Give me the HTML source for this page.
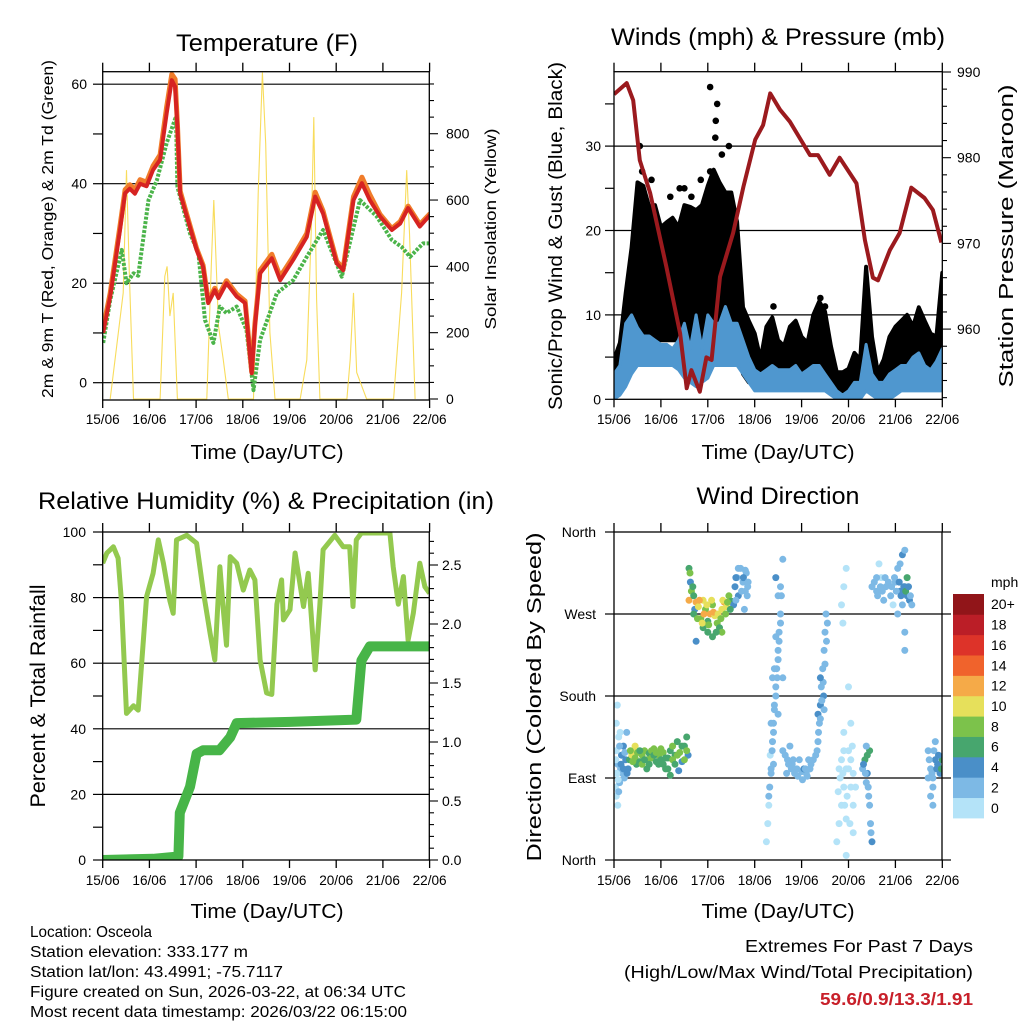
<!DOCTYPE html>
<html><head><meta charset="utf-8"><style>
html,body{margin:0;padding:0;background:#fff;}
svg{display:block;font-family:"Liberation Sans",sans-serif;}
</style></head><body>
<svg id="chart" width="1024" height="1024" viewBox="0 0 1024 1024" xmlns="http://www.w3.org/2000/svg">
<defs>
<clipPath id="cT"><rect x="102.7" y="71.7" width="326.6" height="328.3"/></clipPath>
<clipPath id="cW"><rect x="614" y="71.7" width="328.3" height="327.6"/></clipPath>
<clipPath id="cR"><rect x="102.7" y="532" width="326.6" height="328"/></clipPath>
<clipPath id="cD"><rect x="614" y="532" width="328" height="328"/></clipPath>
</defs>
</svg>
<script>
// ---------- DATA ----------
const dayLabels=["15/06","16/06","17/06","18/06","19/06","20/06","21/06","22/06"];
const tempT=[0.01,0.16,0.37,0.48,0.58,0.69,0.8,0.94,1.08,1.23,1.37,1.48,1.55,1.6,1.66,1.8,2.01,2.15,2.26,2.4,2.48,2.65,2.87,3.05,3.19,3.26,3.37,3.62,3.8,4.08,4.37,4.55,4.72,5.01,5.15,5.37,5.55,5.72,5.94,6.19,6.37,6.54,6.79,7.01];
const tempRed=[10,17.3,30.7,38.1,39,38,40,39.5,42.8,44.8,54.2,60.8,59.5,51.5,38,33.4,26.7,23.3,16,18.6,17,20,17.3,16,1.9,11.3,22,25,20.6,24.7,29.3,37.4,34,24,22.6,36.7,40.1,36.7,33.4,30.7,32,35.1,31.4,33.7];
const tempOrange=[11,18,31.5,38.8,39.8,38.8,40.8,40.3,43.6,45.8,55.5,62,61,52,38.5,33.8,27,23.6,16.4,19,17.4,20.5,17.8,16.4,2.2,11.8,22.6,25.8,21.3,25.3,30,38.3,34.5,24.4,23,37.4,41.3,37.8,33.8,31,32.4,35.5,31.8,34];
const dewT=[0.01,0.16,0.41,0.51,0.66,0.76,0.98,1.16,1.37,1.57,1.6,1.87,2.05,2.19,2.37,2.51,2.65,2.87,3.08,3.23,3.37,3.73,4.08,4.37,4.72,5.12,5.51,5.87,6.19,6.4,6.58,6.86,7.0];
const dewV=[8,16.6,26.7,20,22,21.5,36.7,40.7,48.2,53.5,39.4,30,26,12.6,8,15.3,14,15.3,10.6,-1.5,8.6,18,20.6,25.3,30.7,21.3,36.7,33.4,28.7,27.3,25.3,28,28];
const solarT=[0.16,0.44,0.51,0.57,0.66,1.23,1.33,1.38,1.44,1.51,1.6,2.23,2.33,2.38,2.48,2.58,2.69,3.23,3.33,3.42,3.49,3.58,3.69,4.23,4.37,4.47,4.52,4.58,4.65,5.23,5.3,5.37,5.44,5.65,6.23,6.4,6.51,6.57,6.69];
const solarV=[0,320,690,380,0,0,370,400,250,320,0,0,420,600,220,120,0,0,620,985,770,200,0,0,118,520,850,300,0,0,120,320,80,0,0,320,690,500,0];
const presT=[0,0.27,0.41,0.55,0.77,1.12,1.41,1.55,1.65,1.83,1.97,2.08,2.26,2.54,2.76,3.01,3.18,3.33,3.54,3.75,4.18,4.35,4.6,4.81,5.17,5.35,5.52,5.63,5.88,6.09,6.34,6.62,6.8,6.98];
const presV=[987.4,988.7,986.7,979.7,975.9,967.2,959.5,953.1,955.2,952.7,956.7,956.4,966.1,971.2,976.6,982.1,983.8,987.5,985.6,984.2,980.3,980.3,978,980,977,970.4,966,965.7,969.2,971.2,976.5,975.3,973.9,970.1];
const windT=[0,0.125,0.25,0.375,0.5,0.625,0.75,0.875,1,1.125,1.25,1.375,1.5,1.625,1.75,1.875,2,2.125,2.25,2.375,2.5,2.625,2.75,2.875,3,3.125,3.25,3.375,3.5,3.625,3.75,3.875,4,4.125,4.25,4.375,4.5,4.625,4.75,4.875,5,5.125,5.25,5.375,5.5,5.625,5.75,5.875,6,6.125,6.25,6.375,6.5,6.625,6.75,6.875,7];
const gustHi=[4.7,6.7,12.6,18,25.7,25.3,22.8,23,20.4,21,21.5,20.4,23,22.8,22.4,23,25.3,27.2,25.7,24.5,24.5,21,10.9,9.3,7.8,4.7,8.6,9.7,7,6.3,8.6,9.3,7.4,6.7,10,11.6,10.4,6.3,3.2,3.2,3.6,5.5,4.7,15.7,7.4,3.2,4.7,7.4,8.6,9.3,10,8.6,10.9,9.3,7.8,7.4,15];
const gustLo=[1,1.5,2,4,7,7,7,7,7,7,7,7,7,7,7,7,7,7,7,7,7,7,3,2,2,2,2,2,2,2,2,2,2,2,2,2,2,1,0,0,0,0.5,1,3,1,0.5,0.5,0.5,2,2,2,2,2,2,2,2,2];
const windHi=[3,4,9,10,8.5,7.5,7.5,7,6.5,6.5,6,7,9,6,10,6,10,9,9,11,9,9,7,5,3.5,3,3.5,4,3.5,3.5,3.5,4,3,3.5,4,4,3,2,1,0.5,1,2,2,6.5,3,2,2,3,3.5,4,4,5,5.5,4,3.5,4.5,6];
const windLo=[0,0.5,1.5,3,4,4,4,4,4,4,4,3.5,2.5,2,1.5,2,2.5,4,4,4,4,4,3,2,1,1,1,1,1,1,1,1,1,1,1,1,1,0.5,0,0,0,0,0,1,0.5,0,0,0,0.5,1,1,1,1,1,1,1,1];
const gustOutT=[0.55,2.05,2.2,2.17,2.16,1.65,1.85,2.05,1.4,1.5,0.8,4.4,4.5,3.4,0.6,1.2,2.3,2.45];
const gustOutV=[30,37,35,33,31,24,26,27,25,25,26,12,11,11,27,24,29,30];
const rhT=[0,0.09,0.23,0.33,0.4,0.51,0.66,0.76,0.94,1.08,1.19,1.3,1.44,1.51,1.58,1.8,2.01,2.15,2.3,2.4,2.51,2.58,2.65,2.73,2.87,3.01,3.15,3.26,3.37,3.51,3.62,3.73,3.83,3.87,4.01,4.12,4.3,4.4,4.55,4.65,4.72,4.97,5.15,5.29,5.36,5.43,5.54,6.15,6.22,6.33,6.44,6.54,6.65,6.79,6.9,7.0];
const rhV=[90.5,93.6,95.5,92,79,44.7,47,45.7,80.3,87.4,97.6,90.5,79,75.2,97.6,99,96.6,82.3,69.1,61,89.4,76.7,65.5,92.5,90.5,82.3,88.4,85.4,61,50.9,50.5,78,85.4,73.2,76.3,93.6,77.3,87.4,58,78,94.6,99,95.5,95.5,77.3,97.6,99.7,99.7,89.4,78,86.4,67,75.2,90.5,83.3,81.3];
const rainT=[0,1.08,1.62,1.65,1.87,2.01,2.15,2.5,2.73,2.87,4.01,5.43,5.54,5.72,7.05];
const rainV=[0,0.01,0.03,0.4,0.62,0.9,0.93,0.93,1.04,1.16,1.17,1.19,1.69,1.81,1.81];
const dirTime=[0.02,0.03,0.05,0.05,0.07,0.08,0.1,0.12,0.14,0.16,0.18,0.2,0.22,0.25,0.27,0.3,0.05,0.1,
0.33,0.38,0.42,0.45,0.5,0.55,0.6,0.65,0.7,0.75,0.8,0.85,0.9,0.95,1.0,1.05,1.1,1.15,1.2,1.25,1.3,1.35,1.4,1.45,1.5,1.55,1.58,0.48,0.7,1.2,1.0,1.38,
1.6,1.63,1.65,1.6,1.7,1.72,1.75,1.8,1.85,1.9,1.95,2.0,2.05,2.1,2.15,2.2,2.25,2.3,2.35,2.4,2.45,2.5,2.55,1.9,2.1,2.3,1.75,2.0,
2.58,2.62,2.65,2.7,2.75,2.8,2.82,2.85,2.6,2.78,
3.3,3.32,3.35,3.38,3.4,3.42,3.45,3.47,3.5,3.52,3.55,3.57,3.6,3.28,3.25,3.45,3.5,3.33,3.6,
3.6,3.7,3.8,3.9,4.0,4.1,4.2,4.3,3.75,3.95,4.05,4.15,
4.35,4.38,4.4,4.42,4.45,4.48,4.5,4.52,4.35,4.47,
4.75,4.8,4.85,4.9,4.95,5.0,5.05,5.1,4.8,4.9,4.85,4.9,4.95,4.88,5.0,5.05,4.95,5.1,
5.3,5.35,5.4,5.42,5.45,5.47,5.5,5.45,5.38,
5.5,5.6,5.7,5.8,5.9,6.0,6.05,6.1,6.15,6.2,6.25,6.3,6.05,5.65,5.75,6.2,6.2,6.15,6.2,5.95,6.25,
6.7,6.75,6.8,6.85,6.9,6.95,7.0,6.75,6.8,6.85,
0.04,0.06,0.09,0.12,0.15,0.2,0.23,0.28,0.08,0.13,
0.4,0.45,0.55,0.6,0.65,0.75,0.8,0.85,0.9,0.95,1.05,1.1,1.15,1.25,1.3,1.35,1.45,1.5,1.55,0.35,
1.62,1.68,1.7,1.78,1.82,1.88,1.92,1.98,2.02,2.08,2.12,2.18,2.22,2.28,2.32,2.38,2.42,2.48,
2.6,2.65,2.72,2.76,2.8,2.84,2.86,
3.3,3.35,3.37,3.4,3.42,3.45,3.48,3.5,3.52,3.55,3.42,3.38,3.45,3.5,3.55,3.35,3.4,
3.65,3.72,3.78,3.85,3.92,4.02,4.08,4.12,4.18,4.25,3.68,3.82,
4.33,4.36,4.4,4.43,4.46,4.5,4.53,4.55,4.4,4.48,
4.78,4.82,4.85,4.88,4.92,4.95,5.0,5.05,5.1,5.15,4.9,4.97,5.03,5.08,
5.32,5.36,5.38,5.4,5.43,5.48,
5.55,5.62,5.68,5.72,5.78,5.85,5.92,5.98,6.02,6.08,6.12,6.18,6.22,6.28,6.32,6.1,5.6,6.35,
6.72,6.78,6.82,6.88,6.92,6.98,6.7,6.8];
const dirDeg=[95,80,120,150,170,105,135,85,100,115,95,125,90,110,140,100,70,75,
110,115,120,112,118,108,115,120,110,117,112,122,108,115,110,105,100,112,120,125,115,130,118,108,125,135,115,105,100,93,122,98,
320,305,295,285,290,275,283,278,265,285,275,262,270,280,268,260,255,275,283,278,290,284,280,255,245,250,240,250,
300,310,290,320,305,295,315,300,285,275,
60,80,100,130,150,170,190,210,230,250,270,290,330,40,20,310,160,115,200,
120,110,105,100,97,95,105,115,125,110,100,110,
130,150,170,190,210,230,250,270,160,180,
20,40,60,80,100,120,80,60,100,140,280,300,320,260,190,150,5,30,
100,110,95,80,60,40,20,120,125,
300,295,310,300,290,305,320,295,280,300,290,285,270,325,285,230,250,335,340,280,310,
120,100,90,110,105,95,110,70,60,130,
110,95,88,125,105,100,118,95,60,140,
108,125,120,105,110,105,120,115,118,105,118,112,100,110,105,115,125,110,120,120,
315,300,270,265,285,260,270,280,258,285,272,250,270,265,285,270,283,275,
310,320,295,310,318,290,305,
70,95,120,140,165,180,200,220,240,260,210,200,245,290,300,150,105,
115,105,100,95,92,88,100,92,100,110,95,110,
120,140,155,175,195,215,240,260,200,165,
75,90,110,95,60,45,100,110,95,80,120,70,40,125,
105,95,85,115,70,30,
305,290,300,295,310,305,300,310,295,305,290,300,295,300,290,325,310,280,
110,95,120,100,115,100,90,80];
const dirSpeed=[1,1,1,0,0,2,1,2,3,4,3,4,3,4,3,4,1,2,
6,10,10,8,8,7,8,8,8,7,8,8,7,8,7,6,6,6,7,8,7,6,8,4,6,6,4,6,6,6,8,4,
6,4,8,12,6,4,12,10,8,10,8,6,12,8,10,8,6,10,12,10,8,6,4,6,6,8,4,6,
4,3,4,2,3,2,2,3,2,2,
1,2,2,2,2,3,2,3,2,3,2,2,2,1,1,4,3,1,2,
2,2,2,3,2,2,2,3,2,2,4,2,
2,3,4,2,3,2,2,2,4,4,
0,0,0,0,1,0,0,1,0,0,0,0,0,0,0,0,0,0,
2,6,4,2,2,2,4,6,3,
2,2,1,2,2,2,3,4,2,4,4,4,2,0,2,3,2,4,3,1,6,
2,2,2,4,5,4,6,2,2,2,
1,0,1,2,4,4,3,4,1,0,
8,10,6,8,6,6,8,6,8,6,8,7,6,8,6,8,7,8,8,8,
8,6,6,8,12,10,12,10,8,10,12,6,10,8,10,8,8,6,
4,3,2,4,2,2,2,
2,3,3,2,2,3,2,3,2,3,2,2,2,2,3,2,2,
2,2,2,3,3,2,2,2,2,2,2,2,
3,2,2,3,2,3,2,2,4,2,
0,0,0,0,0,0,0,1,1,0,0,0,0,0,
4,3,2,6,3,2,
2,2,2,2,2,2,2,3,2,4,4,4,6,4,2,2,2,2,
2,2,2,4,4,6,2,2];
const speedColors=["#b4e3f8","#7db9e5","#4a8fc8","#47a66e","#7cc24b","#e6e05b","#f5aa48","#f0632c","#dd3329","#bb1e27","#911519"];
const speedLabels=["0","2","4","6","8","10","12","14","16","18","20+"];
const tempTicks=[0,20,40,60];
const solarTicks=[0,200,400,600,800];
const windTicks=[0,10,20,30];
const presTicks=[960,970,980,990];
const rhTicks=[0,20,40,60,80,100];
const rainTicks=["0.0","0.5","1.0","1.5","2.0","2.5"];
const dirTicks=["North","East","South","West","North"];

// ---------- SCALES ----------
const xT=d=>102.7+d*46.7, yT=v=>382.7-v*4.975, ySol=w=>399-w*0.3316;
const xW=d=>614+d*46.9, yW=v=>399.3-v*8.44, yP=p=>72+(990-p)*8.57;
const yRH=v=>860-v*3.28, yRain=p=>860-p*118;
const yD=g=>860-g*328/360;

const svg=document.getElementById('chart');
const NS="http://www.w3.org/2000/svg";
function mk(tag,attrs,parent){const e=document.createElementNS(NS,tag);for(const k in attrs)e.setAttribute(k,attrs[k]);(parent||svg).appendChild(e);return e;}
function txt(s,x,y,size,anchor,parent,extra){const e=mk('text',Object.assign({x:x,y:y,'font-size':size,'text-anchor':anchor||'middle',fill:'#000'},extra||{}),parent);e.textContent=s;return e;}
function pts(xs,ys,fx,fy){return xs.map((t,i)=>fx(t).toFixed(1)+","+fy(ys[i]).toFixed(1)).join(" ");}
function grp(name){const g=mk('g',{});return g;}
function vtitle(s,x,y,size,len,g){return txt(s,x,y,size,'middle',g,{transform:'rotate(-90 '+x+' '+y+')',textLength:len,lengthAdjust:'spacingAndGlyphs'});}
function dayAxis(g,x0,w,yTop,yBot,labY){
  for(let i=0;i<8;i++){const x=x0+i*w;
    mk('line',{x1:x,y1:yBot,x2:x,y2:yBot+8,stroke:'#000','stroke-width':1.3},g);
    mk('line',{x1:x,y1:yTop,x2:x,y2:yTop-9,stroke:'#000','stroke-width':1.3},g);
    const t=txt(dayLabels[i],x,labY,14,'middle',g,{textLength:34,lengthAdjust:'spacingAndGlyphs'});
    
    
  }
}

// ===== Panel 1: Temperature =====
{
const g=grp('temperature-panel');
const gl=mk('g',{},g);


tempTicks.forEach(v=>mk('line',{x1:102.7,x2:429.3,y1:yT(v),y2:yT(v),stroke:'#000','stroke-width':1.2},gl));
const pl=mk('g',{'clip-path':'url(#cT)'},g);
const sol=mk('polyline',{points:pts(solarT,solarV,xT,ySol),fill:'none',stroke:'#f7d84a','stroke-width':1.1,opacity:0.9},pl);


const dw=mk('polyline',{points:pts(dewT,dewV,xT,yT),fill:'none',stroke:'#4bb44a','stroke-width':4,'stroke-dasharray':'3 1.5','stroke-linejoin':'round'},pl);


const or=mk('polyline',{points:pts(tempT,tempOrange,xT,yT),fill:'none',stroke:'#f07c2a','stroke-width':5,'stroke-linejoin':'round'},pl);


const rd=mk('polyline',{points:pts(tempT,tempRed,xT,yT),fill:'none',stroke:'#d62322','stroke-width':4,'stroke-linejoin':'round'},pl);


mk('rect',{x:102.7,y:71.7,width:326.6,height:328.3,fill:'none',stroke:'#000','stroke-width':1.3},g);
for(let v=0;v<=60;v+=10){mk('line',{x1:93,x2:102.7,y1:yT(v),y2:yT(v),stroke:'#000','stroke-width':1.2},g);}
tempTicks.forEach(v=>{const t=txt(String(v),87,yT(v)+5,14,'end',g);});
for(let w=0;w<=950;w+=50){mk('line',{x1:429.3,x2:w%200===0?438:434,y1:ySol(w),y2:ySol(w),stroke:'#000','stroke-width':1.1},g);}
solarTicks.forEach(v=>{const t=txt(String(v),446,ySol(v)+5,14,'start',g);});
dayAxis(g,102.7,46.7,71.7,400,424);
const ti=txt('Temperature (F)',267,51,24.5,'middle',g,{textLength:182,lengthAdjust:'spacingAndGlyphs'});
const xl=txt('Time (Day/UTC)',267,459,20.5,'middle',g,{textLength:153,lengthAdjust:'spacingAndGlyphs'});
const yl=vtitle('2m & 9m T (Red, Orange) & 2m Td (Green)',53,229,15.5,338,g);
const yr=vtitle('Solar Insolation (Yellow)',496,229,16,201,g);
}

// ===== Panel 2: Winds & Pressure =====
{
const g=grp('winds-pressure-panel');
const gl=mk('g',{},g);


[10,20,30].forEach(v=>mk('line',{x1:614,x2:942.3,y1:yW(v),y2:yW(v),stroke:'#000','stroke-width':1.2},gl));
const pl=mk('g',{'clip-path':'url(#cW)'},g);
const gp=windT.map((t,i)=>xW(t).toFixed(1)+","+yW(gustHi[i]).toFixed(1)).concat(windT.map((t,i)=>xW(t).toFixed(1)+","+yW(gustLo[i]).toFixed(1)).reverse()).join(" ");
const gb=mk('polygon',{points:gp,fill:'#000',stroke:'#000','stroke-width':4,'stroke-linejoin':'round'},pl);


gustOutT.forEach((t,i)=>{const c=mk('circle',{cx:xW(t),cy:yW(gustOutV[i]),r:3.3,fill:'#000'},pl);});
const wp=windT.map((t,i)=>xW(t).toFixed(1)+","+yW(windHi[i]).toFixed(1)).concat(windT.map((t,i)=>xW(t).toFixed(1)+","+yW(windLo[i]).toFixed(1)).reverse()).join(" ");
const wb=mk('polygon',{points:wp,fill:'#4f97cf',stroke:'#4f97cf','stroke-width':3,'stroke-linejoin':'round'},pl);


const pr=mk('polyline',{points:pts(presT,presV,xW,yP),fill:'none',stroke:'#9b1a1e','stroke-width':4,'stroke-linejoin':'round'},pl);


mk('rect',{x:614,y:71.7,width:328.3,height:327.6,fill:'none',stroke:'#000','stroke-width':1.3},g);
for(let v=0;v<=35;v+=5){mk('line',{x1:605,x2:614,y1:yW(v),y2:yW(v),stroke:'#000','stroke-width':1.2},g);}
windTicks.forEach(v=>{const t=txt(String(v),601,yW(v)+5,14,'end',g);});
for(let p=952;p<=990;p+=2){mk('line',{x1:942.3,x2:p%10===0?951:947,y1:yP(p),y2:yP(p),stroke:'#000','stroke-width':1.1},g);}
presTicks.forEach(v=>{const t=txt(String(v),957,yP(v)+5,14,'start',g);});
dayAxis(g,614,46.9,71.7,399.3,424);
const ti=txt('Winds (mph) & Pressure (mb)',778,45,24.5,'middle',g,{textLength:334,lengthAdjust:'spacingAndGlyphs'});
const xl=txt('Time (Day/UTC)',778,459,20.5,'middle',g,{textLength:153,lengthAdjust:'spacingAndGlyphs'});
const yl=vtitle('Sonic/Prop Wind & Gust (Blue, Black)',562,236,19,348,g);
const yr=vtitle('Station Pressure (Maroon)',1013,236,20,303,g);
}

// ===== Panel 3: RH & Precip =====
{
const g=grp('humidity-precip-panel');
const gl=mk('g',{},g);


[20,40,60,80].forEach(v=>mk('line',{x1:102.7,x2:429.3,y1:yRH(v),y2:yRH(v),stroke:'#000','stroke-width':1.2},gl));
const pl=mk('g',{'clip-path':'url(#cR)'},g);
const rh=mk('polyline',{points:pts(rhT,rhV,xT,yRH),fill:'none',stroke:'#93c94f','stroke-width':5,'stroke-linejoin':'round'},pl);


const rn=mk('polyline',{points:pts(rainT,rainV,xT,yRain),fill:'none',stroke:'#47b548','stroke-width':10,'stroke-linejoin':'round','stroke-linecap':'round'},pl);


mk('rect',{x:102.7,y:532,width:326.6,height:328,fill:'none',stroke:'#000','stroke-width':1.3},g);
for(let v=0;v<=100;v+=10){mk('line',{x1:93,x2:102.7,y1:yRH(v),y2:yRH(v),stroke:'#000','stroke-width':1.2},g);}
rhTicks.forEach(v=>{const t=txt(String(v),86,yRH(v)+5,14,'end',g);});
for(let k=0;k<=27;k++){const p=k/10;mk('line',{x1:429.3,x2:k%5===0?438:434,y1:yRain(p),y2:yRain(p),stroke:'#000','stroke-width':1.1},g);}
rainTicks.forEach(s=>{const t=txt(s,442,yRain(parseFloat(s))+5,14,'start',g);});
dayAxis(g,102.7,46.7,532,860,885);
const ti=txt('Relative Humidity (%) & Precipitation (in)',266,509,24.5,'middle',g,{textLength:456,lengthAdjust:'spacingAndGlyphs'});
const xl=txt('Time (Day/UTC)',267,918,20.5,'middle',g,{textLength:153,lengthAdjust:'spacingAndGlyphs'});
const yl=vtitle('Percent & Total Rainfall',45,696,21,223,g);
}

// ===== Panel 4: Wind Direction =====
{
const g=grp('wind-direction-panel');
const gl=mk('g',{},g);


[90,180,270].forEach(v=>mk('line',{x1:614,x2:942,y1:yD(v),y2:yD(v),stroke:'#000','stroke-width':1.2},gl));
const pl=mk('g',{'clip-path':'url(#cD)'},g);
dirTime.forEach((t,i)=>{
  const ci=Math.min(10,Math.floor(dirSpeed[i]/2));
  const c=mk('circle',{cx:xW(t).toFixed(1),cy:yD(dirDeg[i]).toFixed(1),r:3.5,fill:speedColors[ci]},pl);
  
  
});
mk('rect',{x:614,y:532,width:328,height:328,fill:'none',stroke:'#000','stroke-width':1.3},g);
dirTicks.forEach((s,i)=>{const y=yD(i*90);mk('line',{x1:605,x2:614,y1:y,y2:y,stroke:'#000','stroke-width':1.2},g);mk('line',{x1:942,x2:951,y1:y,y2:y,stroke:'#000','stroke-width':1.2},g);const t=txt(s,596,y+5,14,'end',g);});
dayAxis(g,614,46.9,532,860,885);
const ti=txt('Wind Direction',778,504,24.5,'middle',g,{textLength:163,lengthAdjust:'spacingAndGlyphs'});
const xl=txt('Time (Day/UTC)',778,918,20.5,'middle',g,{textLength:153,lengthAdjust:'spacingAndGlyphs'});
const yl=vtitle('Direction (Colored By Speed)',541,697,20,329,g);
const cb=mk('g',{},g);


const bh=(818-594)/11;
for(let i=0;i<11;i++){const y=594+(10-i)*bh;mk('rect',{x:953,y:y,width:31,height:bh+0.4,fill:speedColors[i]},cb);
  const t=txt(speedLabels[i],991,y+bh/2+5,14,'start',cb);}
const mu=txt('mph',991,587,14,'start',cb);
}

// ===== Footer text =====
{
const g=grp('station-info');
const lines=["Location: Osceola","Station elevation: 333.177 m","Station lat/lon: 43.4991; -75.7117","Figure created on Sun, 2026-03-22, at 06:34 UTC","Most recent data timestamp: 2026/03/22 06:15:00"];
const lens=[122,218,253,376,377];
const ys=[937,957,977,997,1017];
lines.forEach((s,i)=>{const t=txt(s,30,ys[i],15.5,'start',g,{textLength:lens[i],lengthAdjust:'spacingAndGlyphs'});});
const g2=grp('extremes-summary');
const e1=txt('Extremes For Past 7 Days',973,952,17.5,'end',g2,{textLength:228,lengthAdjust:'spacingAndGlyphs'});
const e2=txt('(High/Low/Max Wind/Total Precipitation)',973,978,17.5,'end',g2,{textLength:349,lengthAdjust:'spacingAndGlyphs'});
const e3=txt('59.6/0.9/13.3/1.91',973,1005,17.5,'end',g2,{fill:'#c8202a','font-weight':'bold',textLength:153,lengthAdjust:'spacingAndGlyphs'});
}
</script>
</body></html>
